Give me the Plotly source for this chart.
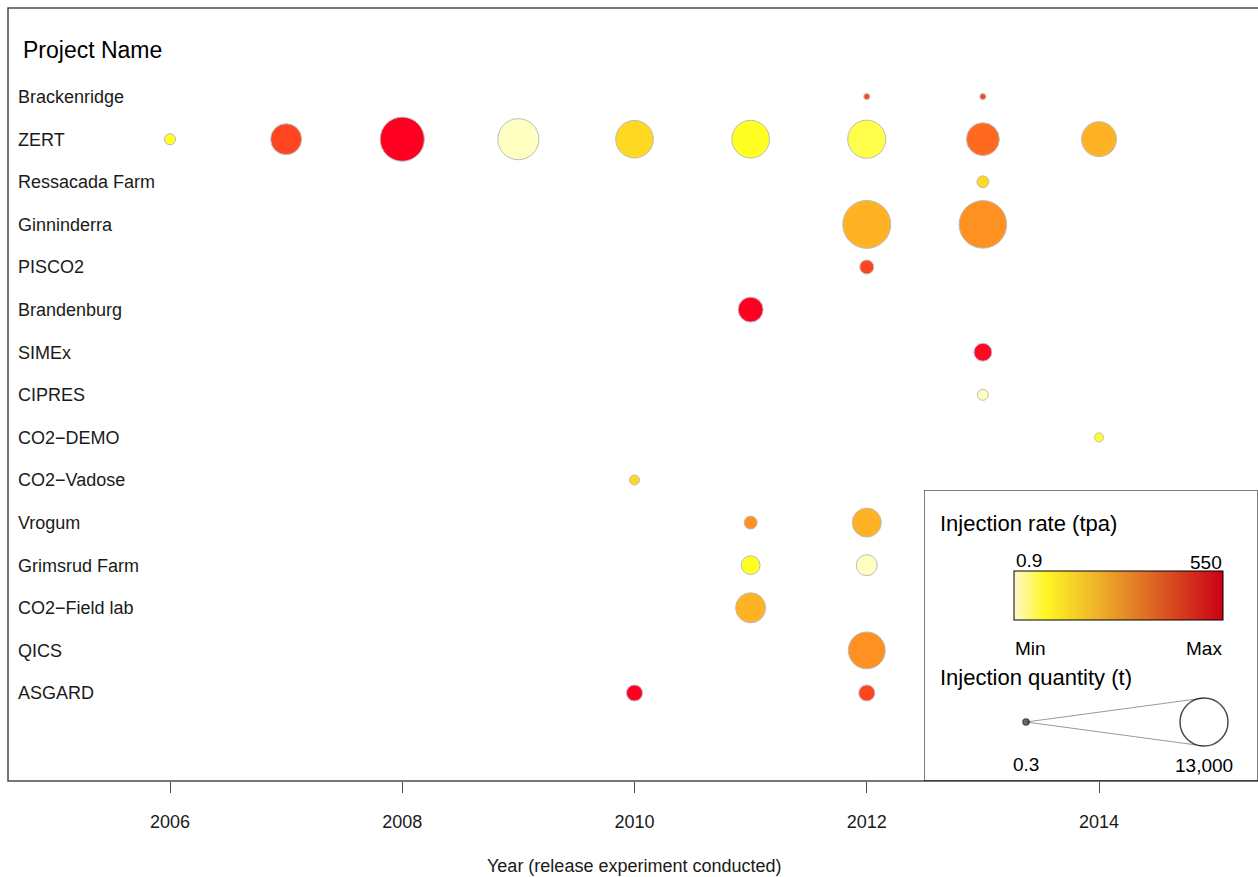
import numpy as np
import plotly.graph_objects as go

# Projects, listed top to bottom
projects = ["Brackenridge", "ZERT", "Ressacada Farm", "Ginninderra", "PISCO2",
            "Brandenburg", "SIMEx", "CIPRES", "CO2\u2212DEMO", "CO2\u2212Vadose",
            "Vrogum", "Grimsrud Farm", "CO2\u2212Field lab", "QICS", "ASGARD"]

# One entry per release experiment
exp_project = ["Brackenridge", "Brackenridge",
               "ZERT", "ZERT", "ZERT", "ZERT", "ZERT", "ZERT", "ZERT", "ZERT", "ZERT",
               "Ressacada Farm", "Ginninderra", "Ginninderra", "PISCO2", "Brandenburg",
               "SIMEx", "CIPRES", "CO2\u2212DEMO", "CO2\u2212Vadose",
               "Vrogum", "Vrogum", "Grimsrud Farm", "Grimsrud Farm", "CO2\u2212Field lab",
               "QICS", "ASGARD", "ASGARD"]
exp_year = [2012, 2013,
            2006, 2007, 2008, 2009, 2010, 2011, 2012, 2013, 2014,
            2013, 2012, 2013, 2012, 2011,
            2013, 2013, 2014, 2010,
            2011, 2012, 2011, 2012, 2011,
            2012, 2010, 2012]
# Injection quantity (t)
exp_quantity = [100, 100,
                700, 5400, 11000, 9500, 8000, 8000, 8200, 6100, 6900,
                800, 13000, 12800, 1100, 3500,
                1800, 680, 460, 560,
                950, 4750, 2000, 2500, 5100,
                7700, 1450, 1450]
# Injection rate (tpa)
exp_rate = [250, 250,
            3.2, 250, 550, 1.0, 8.5, 3.2, 2.4, 110, 22,
            8.5, 22, 42, 250, 550,
            500, 1.0, 3.2, 8.5,
            42, 22, 3.2, 1.0, 22,
            42, 550, 250]

rate_min, rate_max = 0.9, 550
qty_min, qty_max = 0.3, 13000
qty_labels = ["0.3", "13,000"]

FONT = "Liberation Sans, Arial, Helvetica, sans-serif"
TXT = "#1a1a1a"

W, H = 1258, 877
ML, MR, MT, MB = 8, 0, 8, 96
PW, PH = W - ML - MR, H - MT - MB


def px(xp):
    return (xp - ML) / PW


def py(yp):
    return (H - MB - yp) / PH


# bubble area proportional to quantity; largest bubble 48 px across
max_diam = 48
sizeref = 2.0 * qty_max / max_diam ** 2

row_pos = {p: len(projects) - i for i, p in enumerate(projects)}
bubble_y = [row_pos[p] for p in exp_project]

bubble_scale = [
    [0.00, "#FFFFD0"], [0.20, "#FFFF22"], [0.35, "#FFD822"], [0.50, "#FFB224"],
    [0.60, "#FF9022"], [0.75, "#FF6A20"], [0.88, "#FF4420"], [1.00, "#FF0022"],
]
legend_scale = [
    [0.00, "#FFF8CC"], [0.15, "#FFF624"], [0.40, "#EEB22A"],
    [0.65, "#DE6A24"], [1.00, "#CB0015"],
]

fig = go.Figure()

fig.add_trace(go.Scatter(
    x=exp_year, y=bubble_y, mode="markers",
    marker=dict(
        size=exp_quantity, sizemode="area", sizeref=sizeref, sizemin=3,
        color=np.log10(exp_rate), cmin=np.log10(rate_min), cmax=np.log10(rate_max),
        colorscale=bubble_scale, showscale=False,
        line=dict(color="#BDBDBD", width=1), opacity=1,
    ),
    hovertext=exp_project, showlegend=False,
))

# legend panel: local coordinates in pixels from its top-left corner
LX0, LY0, LX1, LY1 = 924, 490, 1257.5, 781
lw, lh = LX1 - LX0, LY1 - LY0

# colour key
fig.add_trace(go.Scatter(
    x=[None], y=[None], mode="markers", showlegend=False, hoverinfo="skip",
    marker=dict(
        color=[0], cmin=0, cmax=1, colorscale=legend_scale, showscale=True,
        colorbar=dict(
            orientation="h", thickness=49, thicknessmode="pixels",
            len=209, lenmode="pixels",
            x=px(1014), xanchor="left", y=py(571), yanchor="top",
            xpad=0, ypad=0, outlinewidth=1, outlinecolor="black",
            showticklabels=False, ticks="", borderwidth=0,
        ),
    ),
))

# size key
key_x = [102, 280]
key_y = 232
fig.add_trace(go.Scatter(
    x=key_x, y=[key_y, key_y], mode="markers", xaxis="x2", yaxis="y2",
    marker=dict(size=[qty_min, qty_max], sizemode="area", sizeref=sizeref, sizemin=3,
                color=["#333333", "white"], line=dict(color="black", width=1.5)),
    showlegend=False, hoverinfo="skip",
))
big_r = np.sqrt(qty_max / 2.0 / sizeref)

shapes = [
    # plot frame (right edge runs off the page)
    dict(type="rect", xref="paper", yref="paper", x0=0, x1=1.01, y0=0, y1=1,
         line=dict(color="#4a4a4a", width=1.5), layer="above"),
    # legend panel
    dict(type="rect", xref="x2", yref="y2", x0=0, x1=lw, y0=0, y1=lh,
         line=dict(color="black", width=1), fillcolor="rgba(0,0,0,0)", layer="above"),
]
for sgn in (-1, 1):
    shapes.append(dict(type="line", xref="x2", yref="y2",
                       x0=key_x[0], y0=key_y, x1=key_x[1], y1=key_y + sgn * big_r,
                       line=dict(color="#9a9a9a", width=1), layer="below"))

annotations = [
    dict(text="Project Name", xref="paper", yref="y", x=px(21), y=16.1,
         xanchor="left", yanchor="middle", showarrow=False,
         font=dict(size=23, color="black", family=FONT)),
    dict(text="Year (release experiment conducted)", xref="paper", yref="paper",
         x=px(634), y=py(866), xanchor="center", yanchor="middle", showarrow=False,
         font=dict(size=18, color=TXT, family=FONT)),
    dict(text="Injection rate (tpa)", xref="x2", yref="y2", x=14, y=33,
         xanchor="left", yanchor="middle", showarrow=False,
         font=dict(size=22, color="black", family=FONT)),
    dict(text=f"{rate_min:g}", xref="x2", yref="y2", x=90, y=70,
         xanchor="left", yanchor="middle", showarrow=False,
         font=dict(size=19, color="black", family=FONT)),
    dict(text=f"{rate_max:g}", xref="x2", yref="y2", x=300, y=72,
         xanchor="right", yanchor="middle", showarrow=False,
         font=dict(size=19, color="black", family=FONT)),
    dict(text="Min", xref="x2", yref="y2", x=89, y=158,
         xanchor="left", yanchor="middle", showarrow=False,
         font=dict(size=19, color="black", family=FONT)),
    dict(text="Max", xref="x2", yref="y2", x=300, y=158,
         xanchor="right", yanchor="middle", showarrow=False,
         font=dict(size=19, color="black", family=FONT)),
    dict(text="Injection quantity (t)", xref="x2", yref="y2", x=14, y=187,
         xanchor="left", yanchor="middle", showarrow=False,
         font=dict(size=22, color="black", family=FONT)),
    dict(text=qty_labels[0], xref="x2", yref="y2", x=key_x[0], y=274,
         xanchor="center", yanchor="middle", showarrow=False,
         font=dict(size=19, color="black", family=FONT)),
    dict(text=qty_labels[1], xref="x2", yref="y2", x=key_x[1], y=275,
         xanchor="center", yanchor="middle", showarrow=False,
         font=dict(size=19, color="black", family=FONT)),
]

fig.update_layout(
    width=W, height=H,
    margin=dict(l=ML, r=MR, t=MT, b=MB, pad=0),
    paper_bgcolor="white", plot_bgcolor="white",
    font=dict(family=FONT, color=TXT),
    xaxis=dict(
        range=[2004.605, 2015.369], tick0=2006, dtick=2, showgrid=False,
        zeroline=False, showline=False, ticks="outside", ticklen=11,
        tickcolor="#4a4a4a", tickwidth=1, ticklabelstandoff=13,
        tickfont=dict(size=18, color=TXT, family=FONT),
    ),
    yaxis=dict(
        range=[-1.066, 17.08], tickvals=[row_pos[p] for p in projects],
        ticktext=projects, ticklabelposition="inside", ticks="",
        ticklabelstandoff=7,
        showgrid=False, zeroline=False, showline=False,
        tickfont=dict(size=18, color=TXT, family=FONT),
    ),
    xaxis2=dict(domain=[px(LX0), px(LX1)], range=[0, lw], visible=False,
                anchor="y2", fixedrange=True),
    yaxis2=dict(domain=[py(LY1), py(LY0)], range=[lh, 0], visible=False,
                anchor="x2", fixedrange=True),
    shapes=shapes,
    annotations=annotations,
)

fig.write_html("out.html")
